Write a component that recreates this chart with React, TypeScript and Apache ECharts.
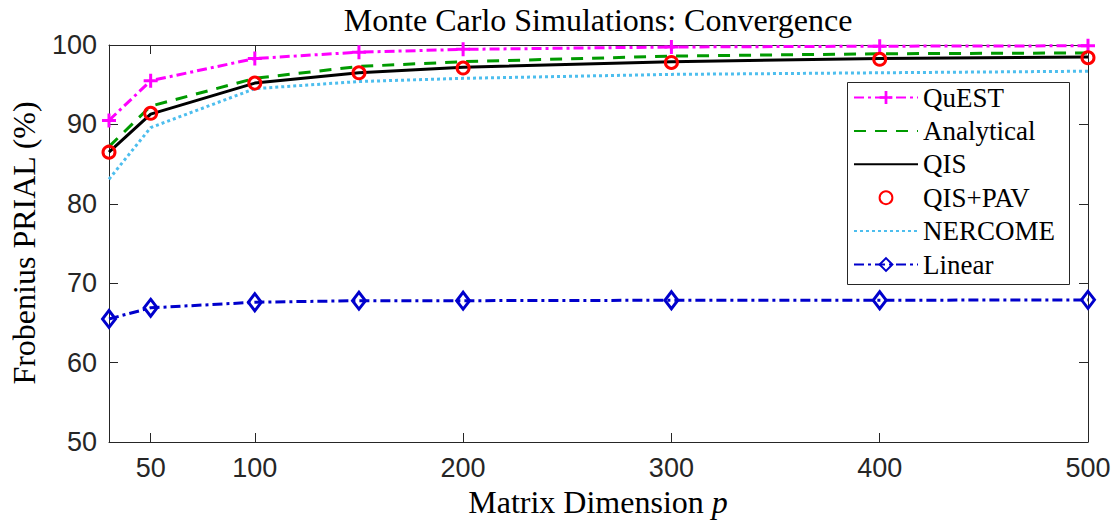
import React, { useEffect, useRef } from "react";
import * as echarts from "echarts";

const dims = [30, 50, 100, 150, 200, 300, 400, 500];
const quest = [90.5, 95.5, 98.3, 99.1, 99.45, 99.75, 99.85, 99.9];
const analytical = [87.2, 92.3, 95.8, 97.3, 97.9, 98.6, 98.9, 99.0];
const qis = [86.5, 91.3, 95.2, 96.5, 97.2, 97.9, 98.3, 98.5];
const qisPav = [86.5, 91.4, 95.2, 96.5, 97.1, 97.8, 98.2, 98.4];
const nercome = [83.1, 89.6, 94.5, 95.4, 95.8, 96.3, 96.5, 96.7];
const linear = [65.5, 66.9, 67.6, 67.8, 67.8, 67.85, 67.85, 67.9];
const xTicks = [50, 100, 200, 300, 400, 500];
const legendNames = ["QuEST", "Analytical", "QIS", "QIS+PAV", "NERCOME", "Linear"];

const AX = "#262626";
const SERIF = "Liberation Serif";
const SANS = "Liberation Sans";
const PLUS = "path://M5.5,0H8.5V5.5H14V8.5H8.5V14H5.5V8.5H0V5.5H5.5Z";

const pairs = (ys: number[]) => dims.map((d, i) => [d, ys[i]]);
const noSymbolLegend = new Set(["Analytical", "QIS", "NERCOME"]);

export default function App() {
  const ref = useRef<HTMLDivElement>(null);
  useEffect(() => {
    if (!ref.current) return;
    const chart = echarts.init(ref.current, undefined, { renderer: "svg" });
    const xAxisBase = {
      type: "value",
      min: 30,
      max: 500,
      splitLine: { show: false },
      axisLine: { show: true, onZero: false, lineStyle: { color: AX, width: 1 } },
      axisTick: { show: true, inside: true, length: 9, customValues: xTicks, lineStyle: { color: AX } },
    };
    const yAxisBase = {
      type: "value",
      min: 50,
      max: 100,
      interval: 10,
      splitLine: { show: false },
      axisLine: { show: true, onZero: false, lineStyle: { color: AX, width: 1 } },
      axisTick: { show: true, inside: true, length: 9, lineStyle: { color: AX } },
    };
    chart.setOption({
      animation: false,
      backgroundColor: "#ffffff",
      grid: { left: 109, right: 29, top: 45, bottom: 79, containLabel: false },
      xAxis: [
        {
          ...xAxisBase,
          position: "bottom",
          axisLabel: {
            show: true,
            customValues: xTicks,
            margin: 12,
            color: AX,
            fontFamily: SANS,
            fontSize: 27,
          },
        },
        { ...xAxisBase, position: "top", axisLabel: { show: false } },
      ],
      yAxis: [
        {
          ...yAxisBase,
          position: "left",
          axisLabel: { show: true, margin: 12, color: AX, fontFamily: SANS, fontSize: 27 },
        },
        { ...yAxisBase, position: "right", axisLabel: { show: false } },
      ],
      legend: {
        orient: "vertical",
        left: 847,
        top: 82,
        padding: [2, 8, 8, 6],
        itemWidth: 64,
        itemHeight: 16,
        itemGap: 6.4,
        z: 6,
        textStyle: { fontFamily: SERIF, fontSize: 27, color: "#000" },
        data: legendNames.map((n) =>
          noSymbolLegend.has(n)
            ? { name: n, itemStyle: { color: "rgba(0,0,0,0)", opacity: 0, borderWidth: 0 } }
            : { name: n }
        ),
      },
      graphic: [
        {
          type: "rect",
          z: 5,
          shape: { x: 847.5, y: 82.5, width: 222, height: 202 },
          style: { fill: "#ffffff", stroke: AX, lineWidth: 1 },
        },
        {
          type: "text",
          x: 598,
          y: 20,
          style: {
            text: "Monte Carlo Simulations: Convergence",
            fontFamily: SERIF,
            fontSize: 32,
            fill: "#000",
            align: "center",
            verticalAlign: "middle",
          },
        },
        {
          type: "text",
          x: 598,
          y: 502,
          style: {
            text: "{a|Matrix Dimension }{i|p}",
            align: "center",
            verticalAlign: "middle",
            rich: {
              a: { fontFamily: SERIF, fontSize: 32, fill: "#000", lineHeight: 32 },
              i: { fontFamily: SERIF, fontSize: 32, fontStyle: "italic", fill: "#000", lineHeight: 32 },
            },
          },
        },
        {
          type: "text",
          x: 24,
          y: 243,
          rotation: Math.PI / 2,
          style: {
            text: "Frobenius PRIAL (%)",
            fontFamily: SERIF,
            fontSize: 32,
            fill: "#000",
            align: "center",
            verticalAlign: "middle",
          },
        },
      ],
      series: [
        {
          name: "QuEST",
          type: "line",
          data: pairs(quest),
          symbol: PLUS,
          symbolSize: 14,
          showAllSymbol: true,
          color: "#ff00ff",
          itemStyle: { color: "#ff00ff", borderWidth: 0 },
          lineStyle: { color: "#ff00ff", width: 3, type: [10, 4, 3, 4] },
          z: 2,
        },
        {
          name: "Analytical",
          type: "line",
          data: pairs(analytical),
          symbol: "none",
          color: "#009a00",
          lineStyle: { color: "#009a00", width: 3, type: [12, 9] },
          z: 2,
        },
        {
          name: "QIS",
          type: "line",
          data: pairs(qis),
          symbol: "none",
          color: "#000000",
          lineStyle: { color: "#000000", width: 3, type: "solid" },
          z: 2,
        },
        {
          name: "QIS+PAV",
          type: "line",
          data: pairs(qisPav),
          symbol: "circle",
          symbolSize: 12,
          showAllSymbol: true,
          color: "#ff0000",
          itemStyle: { color: "rgba(0,0,0,0)", borderColor: "#ff0000", borderWidth: 3 },
          lineStyle: { color: "#ff0000", width: 0, opacity: 0 },
          z: 3,
        },
        {
          name: "NERCOME",
          type: "line",
          data: pairs(nercome),
          symbol: "none",
          color: "#4dbeee",
          lineStyle: { color: "#4dbeee", width: 3, type: [3, 3] },
          z: 2,
        },
        {
          name: "Linear",
          type: "line",
          data: pairs(linear),
          symbol: "diamond",
          symbolSize: [13, 17],
          showAllSymbol: true,
          color: "#0000cc",
          itemStyle: { color: "rgba(0,0,0,0)", borderColor: "#0000cc", borderWidth: 3 },
          lineStyle: { color: "#0000cc", width: 3, type: [10, 4, 3, 4] },
          z: 2,
        },
      ],
    });
    return () => chart.dispose();
  }, []);
  return (
    <div
      ref={ref}
      style={{ position: "fixed", left: 0, top: 0, width: 1117, height: 521, background: "#fff" }}
    />
  );
}
